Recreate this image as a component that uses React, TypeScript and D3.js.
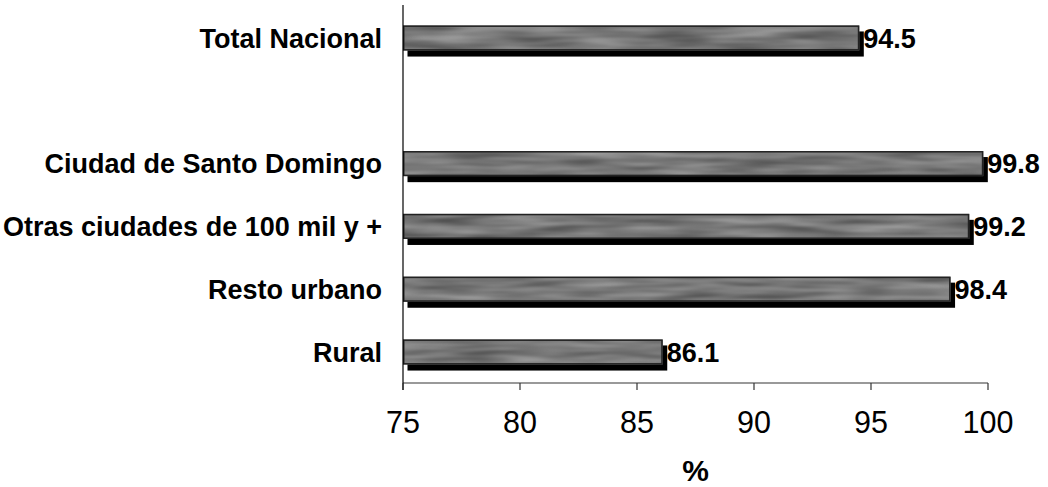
import React from "react";
import * as d3 from "d3";

const categories = [
  "Total Nacional",
  "",
  "Ciudad de Santo Domingo",
  "Otras ciudades de 100 mil y +",
  "Resto urbano",
  "Rural",
];
const values: (number | null)[] = [94.5, null, 99.8, 99.2, 98.4, 86.1];
const valueLabels = ["94.5", "", "99.8", "99.2", "98.4", "86.1"];
const xTicks = [75, 80, 85, 90, 95, 100];
const xTitle = "%";

const W = 1048;
const H = 487;

export default function App() {
  const x = d3.scaleLinear().domain([75, 100]).range([403, 988]);
  const y = d3
    .scaleBand<string>()
    .domain(categories.map((c, i) => i + ""))
    .range([6.6, 383.4])
    .paddingInner(0.6)
    .paddingOuter(0.3);
  const bw = y.bandwidth();
  const axisY = 383;
  const font = "Liberation Sans, Arial, sans-serif";

  return (
    <div style={{ position: "absolute", left: 0, top: 0, width: W, height: H, background: "#fff" }}>
      <svg width={W} height={H} style={{ display: "block" }}>
        <defs>
          <filter
            id="tex"
            x="0"
            y="0"
            width="1"
            height="1"
            filterUnits="objectBoundingBox"
            colorInterpolationFilters="sRGB"
          >
            <feTurbulence type="fractalNoise" baseFrequency="0.014 0.12" numOctaves={2} seed={4} result="n" />
            <feColorMatrix
              in="n"
              type="matrix"
              values="0.4 0 0 0 0.27  0.4 0 0 0 0.27  0.4 0 0 0 0.27  0 0 0 0 1"
              result="g"
            />
            <feComposite in="g" in2="SourceGraphic" operator="in" />
          </filter>
        </defs>
        <rect width={W} height={H} fill="#fff" />

        {categories.map((c, i) => {
          const v = values[i];
          const yc = y(i + "")!;
          const cy = yc + bw / 2;
          return (
            <g key={i}>
              {c !== "" && (
                <text
                  x={382}
                  y={cy}
                  dy="0.36em"
                  textAnchor="end"
                  fontFamily={font}
                  fontWeight="bold"
                  fontSize={27}
                  fill="#000"
                >
                  {c}
                </text>
              )}
              {v !== null && (
                <g>
                  <rect x={x(75) + 4.5} y={yc + 6} width={x(v) - x(75)} height={bw} fill="#000" />
                  <rect x={x(75)} y={yc} width={x(v) - x(75)} height={bw} fill="#777" filter="url(#tex)" />
                  <rect
                    x={x(75) + 0.75}
                    y={yc + 0.75}
                    width={x(v) - x(75) - 1.5}
                    height={bw - 1.5}
                    fill="none"
                    stroke="#222"
                    strokeWidth={1.5}
                  />
                  <text
                    x={x(v) + 4}
                    y={cy}
                    dy="0.36em"
                    fontFamily={font}
                    fontWeight="bold"
                    fontSize={27}
                    fill="#000"
                  >
                    {valueLabels[i]}
                  </text>
                </g>
              )}
            </g>
          );
        })}

        {/* axes */}
        <line x1={x(75)} x2={x(100)} y1={axisY} y2={axisY} stroke="#777" strokeWidth={1.5} />
        <line x1={x(75)} x2={x(75)} y1={5} y2={axisY + 7} stroke="#000" strokeWidth={1.2} />
        {xTicks.map((t) => (
          <g key={t}>
            <line x1={x(t)} x2={x(t)} y1={axisY} y2={axisY + 7} stroke="#333" strokeWidth={1.2} />
            <text
              x={x(t)}
              y={433}
              textAnchor="middle"
              fontFamily={font}
              fontSize={30.5}
              fill="#000"
            >
              {t}
            </text>
          </g>
        ))}
        <text
          x={(x(75) + x(100)) / 2}
          y={481}
          textAnchor="middle"
          fontFamily={font}
          fontWeight="bold"
          fontSize={30}
          fill="#000"
        >
          {xTitle}
        </text>
      </svg>
    </div>
  );
}
